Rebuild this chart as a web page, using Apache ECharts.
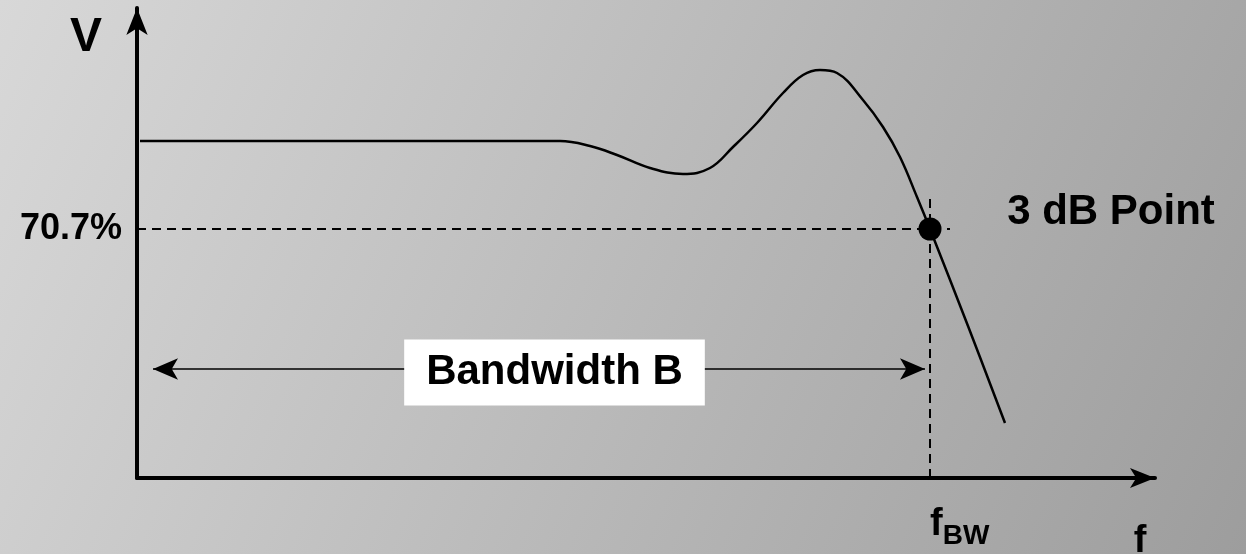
<!DOCTYPE html>
<html>
<head>
<meta charset="utf-8">
<script src="https://cdn.jsdelivr.net/npm/echarts@6/dist/echarts.min.js"></script>
<style>
  html, body { margin: 0; padding: 0; }
  #chart { width: 1246px; height: 554px; }
</style>
</head>
<body>
<div id="chart"></div>
<script>
// response curve (x = frequency, y = voltage, arbitrary units)
const curveX = [3, 300, 423, 453, 480, 513, 546, 573, 596, 620, 646, 666, 683, 700, 726, 746, 763, 780, 793, 831, 868];
const curveY = [337, 337, 337, 332, 323, 310, 304, 310, 331, 355, 385, 403, 408, 405, 378, 351, 321, 281, 249, 152, 55];

// 3 dB point and its guide lines
const point3dB = [793, 249];
const levelLine = [[0, 249], [813, 249]];
const bwLine = [[793, 0], [793, 285]];

// bandwidth arrow
const bandArrow = [[16, 109], [788, 109]];

// text notes
const noteX = [974, 417.5];
const noteY = [266, 105.5];
const noteText = ["3 dB Point", "Bandwidth B"];

const yTickValue = [249];
const yTickLabel = "70.7%";
const xTickValue = [793];

const FONT = "Liberation Sans, Arial, sans-serif";

const chart = echarts.init(document.getElementById("chart"));
chart.setOption({
  animation: false,
  backgroundColor: {
    type: "linear", x: 0, y: 0, x2: 1, y2: 1,
    colorStops: [
      { offset: 0, color: "#d8d8d8" },
      { offset: 1, color: "#9d9d9d" },
    ],
  },
  grid: { left: 137, right: 91, top: 8, bottom: 76, outerBoundsMode: "none", containLabel: false },
  xAxis: {
    type: "value",
    min: 0,
    max: 1018,
    name: "f",
    nameLocation: "end",
    nameGap: -15,
    nameTextStyle: {
      color: "#000", fontSize: 38, fontWeight: "bold", fontFamily: FONT,
      align: "center", verticalAlign: "top", padding: [45, 0, 0, 0],
    },
    splitLine: { show: false },
    axisTick: { show: false },
    axisLine: {
      show: true,
      symbol: ["none", "arrow"],
      symbolSize: [15, 25],
      lineStyle: { color: "#000", width: 4 },
    },
    axisLabel: {
      show: true,
      customValues: xTickValue,
      margin: 22,
      align: "left",
      formatter: () => "{f|f}{s|BW}",
      rich: {
        f: { fontSize: 38, fontWeight: "bold", color: "#000", fontFamily: FONT },
        s: { fontSize: 28, fontWeight: "bold", color: "#000", fontFamily: FONT, padding: [22, 0, 0, 0] },
      },
    },
  },
  yAxis: {
    type: "value",
    min: 0,
    max: 470,
    name: "V",
    nameLocation: "end",
    nameGap: -54,
    nameTextStyle: {
      color: "#000", fontSize: 48, fontWeight: "bold", fontFamily: FONT,
      padding: [0, 102, 0, 0],
    },
    splitLine: { show: false },
    axisTick: { show: false },
    axisLine: {
      show: true,
      symbol: ["none", "arrow"],
      symbolSize: [16, 27],
      lineStyle: { color: "#000", width: 4 },
    },
    axisLabel: {
      show: true,
      customValues: yTickValue,
      margin: 15,
      formatter: () => yTickLabel,
      color: "#000",
      fontSize: 36,
      fontWeight: "bold",
      fontFamily: FONT,
      padding: [10, 0, 0, 0],
    },
  },
  series: [
    {
      name: "level",
      type: "line",
      data: levelLine,
      symbol: "none",
      lineStyle: { color: "#000", width: 2, type: [9, 6] },
      z: 2,
    },
    {
      name: "fbw",
      type: "line",
      data: bwLine,
      symbol: "none",
      lineStyle: { color: "#000", width: 2, type: [9, 6] },
      z: 2,
    },
    {
      name: "response",
      type: "line",
      smooth: 0.4,
      symbol: "none",
      data: curveX.map((x, i) => [x, curveY[i]]),
      lineStyle: { color: "#000", width: 2.5 },
      z: 3,
    },
    {
      name: "3dB",
      type: "scatter",
      data: [point3dB],
      symbolSize: 23,
      itemStyle: { color: "#000", opacity: 1 },
      z: 4,
      markLine: {
        silent: true,
        symbol: ["arrow", "arrow"],
        symbolSize: [16, 25],
        label: { show: false },
        lineStyle: { color: "#000", width: 1.5, type: "solid", opacity: 1 },
        data: [[{ coord: bandArrow[0] }, { coord: bandArrow[1] }]],
      },
    },
    {
      name: "notes",
      type: "scatter",
      clip: false,
      symbolSize: 0,
      itemStyle: { opacity: 1 },
      data: [
        [noteX[0], noteY[0], noteText[0]],
        {
          value: [noteX[1], noteY[1], noteText[1]],
          label: { backgroundColor: "#fff", padding: [12, 22] },
        },
      ],
      z: 10,
      label: {
        show: true,
        position: "inside",
        formatter: (p) => p.value[2],
        color: "#000",
        fontSize: 42,
        fontWeight: "bold",
        fontFamily: FONT,
        lineHeight: 42,
      },
      emphasis: { disabled: true },
    },
  ],
});
</script>
</body>
</html>
